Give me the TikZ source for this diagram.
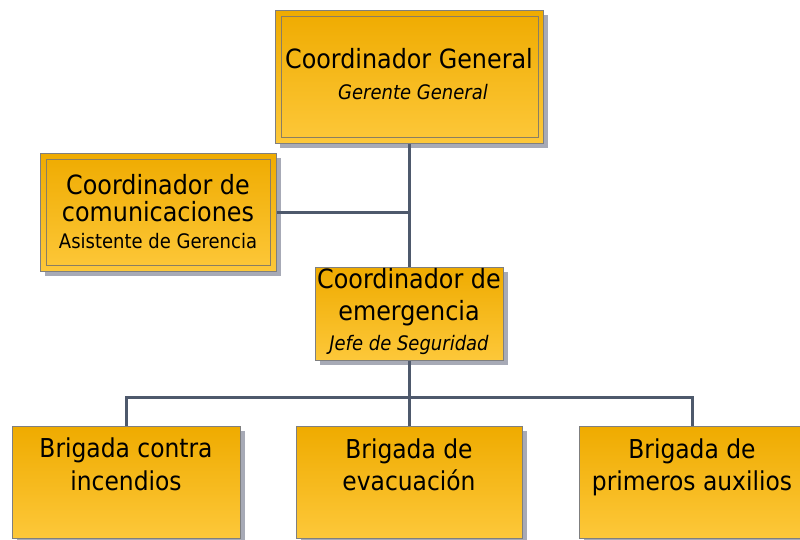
\documentclass[tikz,border=0pt]{standalone}
\usepackage{fontspec}
\setmainfont{DejaVu Sans Condensed}
\definecolor{boxtop}{HTML}{EFAB00}
\definecolor{boxbot}{HTML}{FDC83A}
\definecolor{boxline}{HTML}{7F7F7F}
\definecolor{innerline}{HTML}{8A7E62}
\definecolor{shadowc}{HTML}{A7AAB6}
\definecolor{conn}{HTML}{4E596C}
\tikzset{
  orgbox/.style={anchor=north west, inner sep=0pt, draw=boxline, line width=0.9pt,
                 top color=boxtop, bottom color=boxbot},
  innerbox/.style={anchor=north west, inner sep=0pt, draw=innerline, line width=0.8pt},
  shadowbox/.style={anchor=north west, inner sep=0pt, fill=shadowc},
  bigtxt/.style={anchor=base, inner sep=0pt, font=\fontsize{26.5}{29}\selectfont},
  midtxt/.style={anchor=base, inner sep=0pt, font=\fontsize{26}{29}\selectfont},
  smalltxt/.style={anchor=base, inner sep=0pt, font=\fontsize{20}{23}\selectfont},
  smallit/.style={anchor=base, inner sep=0pt, font=\fontsize{20}{23}\selectfont\itshape},
  link/.style={draw=conn, line width=3pt}
}
\begin{document}
\begin{tikzpicture}[x=1pt,y=-1pt]
\useasboundingbox (0,0) rectangle (800,540);
% shadows
\node[shadowbox, minimum width=268pt, minimum height=133pt] (shtop) at (280,15) {};
\node[shadowbox, minimum width=236pt, minimum height=118pt] (shleft) at (45,158) {};
\node[shadowbox, minimum width=188pt, minimum height=93pt] (shmid) at (320,272) {};
\node[shadowbox, minimum width=228pt, minimum height=114pt] (shb1) at (17,431) {};
\node[shadowbox, minimum width=226pt, minimum height=114pt] (shb2) at (301,431) {};
\node[shadowbox, minimum width=226pt, minimum height=114pt] (shb3) at (584,431) {};
% boxes
\node[orgbox, minimum width=268pt, minimum height=133pt] (top) at (275,10) {};
\node[innerbox, minimum width=257pt, minimum height=121pt] (topin) at (281,16) {};
\node[orgbox, minimum width=236pt, minimum height=118pt] (left) at (40,153) {};
\node[innerbox, minimum width=224pt, minimum height=106pt] (leftin) at (46,159) {};
\node[orgbox, minimum width=188pt, minimum height=93pt] (mid) at (315,267) {};
\node[orgbox, minimum width=228pt, minimum height=112pt] (b1) at (12,426) {};
\node[orgbox, minimum width=226pt, minimum height=112pt] (b2) at (296,426) {};
\node[orgbox, minimum width=226pt, minimum height=112pt] (b3) at (579,426) {};
% connectors
\coordinate (bus) at (409,397);
\draw[link] (top.south) -- (mid.north);
\draw[link] (left.east) -- (left.east -| top.south);
\draw[link] (mid.south) -- (b2.north);
\draw[link] (b1.north) |- (bus) -| (b3.north);
% texts
\node[bigtxt] (t1) at (409,69) {Coordinador General};
\node[smallit] (t2) at (413,100) {Gerente General};
\node[bigtxt] (l1) at (158,194) {Coordinador de};
\node[bigtxt] (l2) at (158,222) {comunicaciones};
\node[smalltxt] (l3) at (158,248) {Asistente de Gerencia};
\node[bigtxt] (m1) at (409,288) {Coordinador de};
\node[bigtxt] (m2) at (409,320) {emergencia};
\node[smallit] (m3) at (409,350) {Jefe de Seguridad};
\node[midtxt] (a1) at (126,457) {Brigada contra};
\node[midtxt] (a2) at (126,490) {incendios};
\node[midtxt] (c1) at (409,458) {Brigada de};
\node[midtxt] (c2) at (409,490) {evacuación};
\node[midtxt] (d1) at (692,458) {Brigada de};
\node[midtxt] (d2) at (692,490) {primeros auxilios};
\end{tikzpicture}
\end{document}
